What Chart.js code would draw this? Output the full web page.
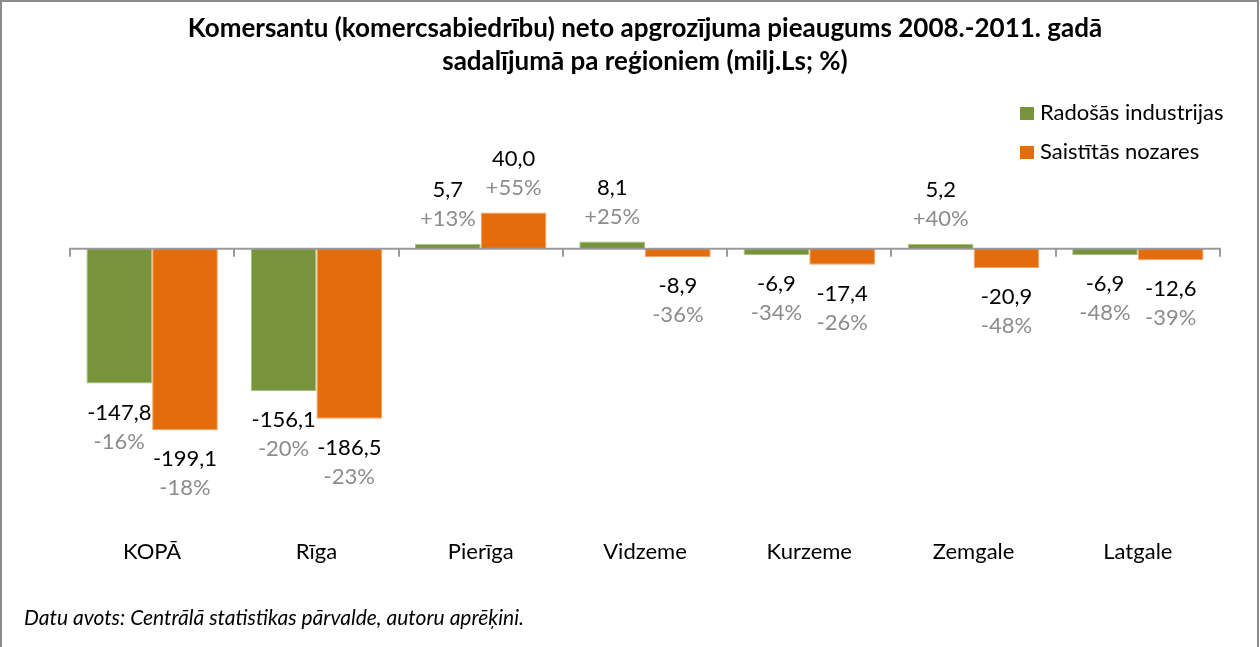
<!DOCTYPE html>
<html>
<head>
<meta charset="utf-8">
<script src="https://cdn.jsdelivr.net/npm/chart.js@4.4.1/dist/chart.umd.min.js"></script>
<style>
  html, body { margin: 0; padding: 0; background: #fff; overflow: hidden; }
  #wrap { position: absolute; left: 0; top: 0; width: 1260px; height: 647px; }
  #frame { position: absolute; left: 0; top: 0; width: 1255px; height: 700px; border: 2px solid #8c8c8c; pointer-events: none; }
  #source { position: absolute; left: 24px; top: 605px; font: italic 21px Lato, sans-serif; color: #000; line-height: 24px; white-space: nowrap; }
</style>
</head>
<body>
<div id="wrap"><canvas id="c"></canvas></div>
<div id="frame"></div>
<div id="source">Datu avots: Centrālā statistikas pārvalde, autoru aprēķini.</div>
<script>
const titleLines = ['Komersantu (komercsabiedrību) neto apgrozījuma pieaugums 2008.-2011. gadā', 'sadalījumā pa reģioniem (milj.Ls; %)'];
const regions = ['KOPĀ', 'Rīga', 'Pierīga', 'Vidzeme', 'Kurzeme', 'Zemgale', 'Latgale'];
const seriesNames = ['Radošās industrijas', 'Saistītās nozares'];
const creativeValues = [-147.8, -156.1, 5.7, 8.1, -6.9, 5.2, -6.9];
const relatedValues = [-199.1, -186.5, 40.0, -8.9, -17.4, -20.9, -12.6];
const creativePct = [-16, -20, 13, 25, -34, 40, -48];
const relatedPct = [-18, -23, 55, -36, -26, -48, -39];

const GREEN = '#77933C';
const ORANGE = '#E46C0A';
const FONT = 'Lato, "Open Sans", sans-serif';

const fmtVal = v => v.toFixed(1).replace('.', ',');
const fmtPct = p => (p > 0 ? '+' : '') + p + '%';

const zeroAxisPlugin = {
  id: 'zeroAxis',
  afterDatasetsDraw(chart) {
    const { ctx, chartArea, scales } = chart;
    const y0 = scales.y.getPixelForValue(0);
    const xs = scales.x;
    const n = chart.data.labels.length;
    ctx.save();
    ctx.strokeStyle = '#9a9a9a';
    ctx.lineWidth = 2;
    ctx.beginPath();
    ctx.moveTo(chartArea.left, y0);
    ctx.lineTo(chartArea.right, y0);
    const bounds = [chartArea.left];
    for (let i = 1; i < n; i++) bounds.push((xs.getPixelForValue(i - 1) + xs.getPixelForValue(i)) / 2);
    bounds.push(chartArea.right);
    bounds.forEach(bx => {
      const px = Math.round(bx);
      ctx.moveTo(px, y0 - 1);
      ctx.lineTo(px, y0 + 8);
    });
    ctx.stroke();
    ctx.restore();
  }
};

const labelsPlugin = {
  id: 'barLabels',
  afterDraw(chart) {
    const { ctx } = chart;
    const pcts = [creativePct, relatedPct];
    ctx.save();
    ctx.font = '22px ' + FONT;
    ctx.textAlign = 'center';
    ctx.textBaseline = 'middle';
    chart.data.datasets.forEach((ds, di) => {
      const meta = chart.getDatasetMeta(di);
      meta.data.forEach((bar, i) => {
        const v = ds.data[i];
        const p = pcts[di][i];
        let yv, yp;
        if (v >= 0) { yp = bar.y - 25; yv = bar.y - 54; }
        else { yv = bar.y + 29; yp = bar.y + 58; }
        ctx.fillStyle = '#000';
        ctx.fillText(fmtVal(v), bar.x, yv);
        ctx.fillStyle = '#8c8c8c';
        ctx.fillText(fmtPct(p), bar.x, yp);
      });
    });
    ctx.restore();
  }
};

const legendPlugin = {
  id: 'sideLegend',
  afterDraw(chart) {
    const { ctx } = chart;
    const ys = [113, 152];
    ctx.save();
    ctx.font = '22px ' + FONT;
    ctx.textAlign = 'left';
    ctx.textBaseline = 'middle';
    chart.data.datasets.forEach((ds, di) => {
      ctx.fillStyle = ds.backgroundColor;
      ctx.fillRect(1020, ys[di] - 6, 14, 13);
      ctx.fillStyle = '#000';
      ctx.fillText(ds.label, 1040, ys[di]);
    });
    ctx.restore();
  }
};

new Chart(document.getElementById('c'), {
  type: 'bar',
  data: {
    labels: regions,
    datasets: [
      { label: seriesNames[0], data: creativeValues, backgroundColor: GREEN, borderColor: '#a9bf7c', borderWidth: 1 },
      { label: seriesNames[1], data: relatedValues, backgroundColor: ORANGE, borderColor: '#f0a466', borderWidth: 1 }
    ]
  },
  options: {
    responsive: true,
    maintainAspectRatio: false,
    animation: false,
    events: [],
    datasets: { bar: { categoryPercentage: 0.8, barPercentage: 1.0 } },
    layout: { padding: { left: 70, right: 40, top: 0, bottom: 62 } },
    plugins: {
      legend: { display: false },
      tooltip: { enabled: false },
      title: {
        display: true,
        text: titleLines,
        color: '#000',
        font: { family: FONT, size: 26, weight: 'bold', lineHeight: '33px' },
        padding: { top: 12.5, bottom: 124.8 }
      }
    },
    scales: {
      x: {
        grid: { display: false, drawTicks: false, tickLength: 0 },
        border: { display: false },
        ticks: { color: '#000', font: { family: FONT, size: 22 }, padding: 20, maxRotation: 0 }
      },
      y: {
        display: false,
        min: -296,
        max: 50,
        grid: { display: false }
      }
    }
  },
  plugins: [zeroAxisPlugin, labelsPlugin, legendPlugin]
});
</script>
</body>
</html>
